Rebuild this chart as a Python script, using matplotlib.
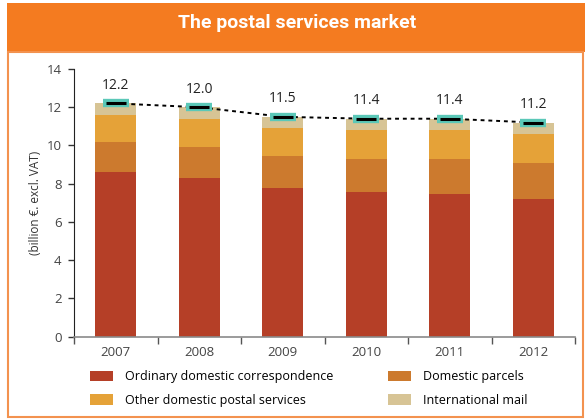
import matplotlib.pyplot as plt
import matplotlib.patches as mpatches
import numpy as np

# Data (billion EUR, excl. VAT)
years = ["2007", "2008", "2009", "2010", "2011", "2012"]
ordinary = [8.6, 8.3, 7.8, 7.55, 7.45, 7.2]
parcels = [1.6, 1.6, 1.65, 1.75, 1.85, 1.9]
other = [1.4, 1.5, 1.45, 1.5, 1.5, 1.5]
international = [0.6, 0.6, 0.6, 0.6, 0.6, 0.6]
totals = [12.2, 12.0, 11.5, 11.4, 11.4, 11.2]
total_labels = ["12.2", "12.0", "11.5", "11.4", "11.4", "11.2"]

series_names = ["Ordinary domestic correspondence", "Domestic parcels",
                "Other domestic postal services", "International mail"]
colors = ["#B53F27", "#CC7A2E", "#E5A238", "#D7C495"]

plt.rcParams['font.family'] = ['Open Sans', 'DejaVu Sans']

fig = plt.figure(figsize=(5.87, 4.19), dpi=100)
W, H = 587, 419

# Header band and frame
fig.patches.append(mpatches.Rectangle((7 / W, 1 - 52 / H), 578 / W, 49 / H,
                                      transform=fig.transFigure,
                                      facecolor="#F47B20", edgecolor="none"))
fig.patches.append(mpatches.Rectangle((7.5 / W, 2 / H), 575 / W, (417 - 52) / H,
                                      transform=fig.transFigure,
                                      facecolor="none", edgecolor="#F3924F", lw=1.5))
fig.text(0.507, 1 - 23 / H, "The postal services market", color="white",
         ha="center", va="center", fontsize=14, fontweight="bold",
         family=["Liberation Sans Narrow", "Roboto", "DejaVu Sans"])

ax = fig.add_axes([74 / W, 1 - 336.7 / H, (575 - 74) / W, (336.7 - 69) / H])

x = np.arange(len(years))
stack = [ordinary, parcels, other, international]
bottom = np.zeros(len(years))
bars = []
for vals, col, name in zip(stack, colors, series_names):
    b = ax.bar(x, vals, width=0.49, bottom=bottom, color=col, label=name, zorder=2)
    bars.append(b)
    bottom += np.array(vals)

# Totals line with markers
ax.plot(x, totals, color="black", ls=(0, (2, 2)), lw=1.4, zorder=3)
ax.plot(x, totals, ls="none", marker="_", ms=19, mew=6, color="#5BC8B8", zorder=4)
ax.plot(x, totals, ls="none", marker="_", ms=15, mew=2.2, color="black", zorder=5)
for xi, t, lab in zip(x, totals, total_labels):
    ax.annotate(lab, (xi, t), xytext=(0, 13), textcoords="offset points",
                ha="center", va="center", fontsize=10, color="#222222")

ax.set_xlim(-0.5, 5.5)
ax.set_ylim(0, 14)
ax.set_yticks(range(0, 15, 2))
ax.set_xticks(x)
ax.set_xticklabels(years)
ax.set_xticks(np.arange(-0.5, 6, 1), minor=True)
ax.tick_params(axis="x", which="major", length=0, pad=7, labelsize=9.5, colors="#444444")
ax.tick_params(axis="x", which="minor", length=5, width=1, color="#555555")
ax.tick_params(axis="y", length=4, width=1, labelsize=9.5, colors="#444444", pad=5)
ax.tick_params(axis="y", color="#333333")
ax.set_ylabel("(billion €. excl. VAT)", fontsize=8.5, color="#333333", labelpad=3)

for s in ["top", "right"]:
    ax.spines[s].set_visible(False)
ax.spines["left"].set_color("#222222")
ax.spines["bottom"].set_color("#8A8A8A")
ax.spines["bottom"].set_linewidth(1.2)

# Legend, filled row-wise
order = [0, 2, 1, 3]
fig.legend([bars[i] for i in order], [series_names[i] for i in order],
           loc="upper left", bbox_to_anchor=(90 / W, 1 - 370 / H), ncol=2,
           frameon=False, fontsize=9, borderpad=0, handlelength=1.8,
           handleheight=0.9, handletextpad=1.0, columnspacing=4.4,
           labelspacing=0.85, borderaxespad=0)

fig.savefig("out.png", dpi=100)
